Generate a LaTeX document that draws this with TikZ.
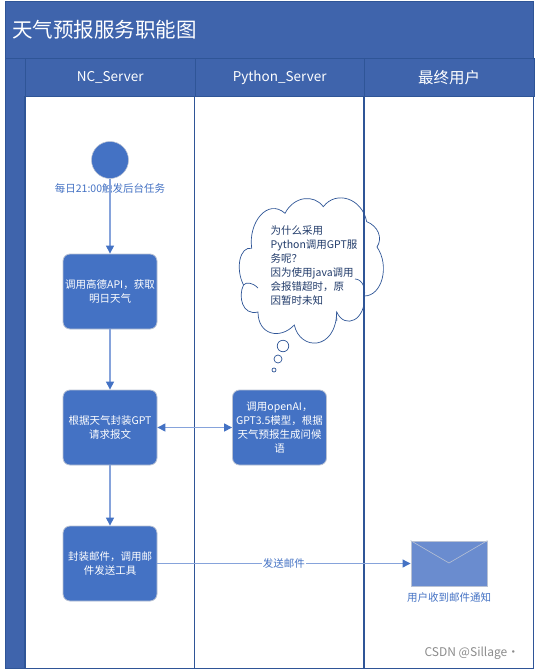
\documentclass[tikz,border=0pt]{standalone}
\usepackage{fontspec}
\usepackage{tikz}
\usetikzlibrary{arrows.meta}
\usetikzlibrary{positioning}
\usetikzlibrary{calc}
\setmainfont{Noto Sans CJK SC}

\definecolor{bandblue}{HTML}{3F64AC}
\definecolor{edgeblue}{HTML}{2F5597}
\definecolor{stepblue}{HTML}{4472C4}
\definecolor{linkblue}{HTML}{86A3DB}
\definecolor{mailblue}{HTML}{6A8CCF}
\definecolor{softgrey}{HTML}{B9C2D4}

\tikzset{
  band/.style={draw=edgeblue, fill=bandblue, line width=0.8pt, text=white, inner sep=0pt},
  lanehead/.style={band, minimum height=38pt, font=\fontsize{13.5}{16}\selectfont},
  stepbox/.style={draw=softgrey, fill=stepblue, line width=0.8pt, rounded corners=7pt, minimum width=94pt,
    minimum height=75pt, inner sep=0pt, text=white, align=center, font=\fontsize{10.5}{14}\selectfont},
  caption/.style={text=stepblue, inner sep=0pt, font=\fontsize{10.5}{14}\selectfont},
  link/.style={draw=linkblue, line width=1.1pt},
  tip/.style={-{Triangle[length=8pt, width=8pt, color=stepblue]}},
  twotip/.style={{Triangle[length=8pt, width=8pt, color=stepblue]}-{Triangle[length=8pt, width=8pt, color=stepblue]}},
  cloudline/.style={draw=edgeblue, line width=0.7pt}
}

\begin{document}
\begin{tikzpicture}[x=1pt, y=-1pt]

      % Page size of the reference
      \useasboundingbox (0, 0) rectangle (535, 670);

      % Outer frame and left strip
      \draw[edgeblue, line width=0.8pt, fill=white] (5, 1) rectangle (533.5, 668);
      \draw[band] (5, 58) rectangle (25, 668);

      % Title band
      \node[band, minimum width=528.5pt, minimum height=57pt] (title) at (269.25, 29.5) {};
      \node[text=white, inner sep=0pt, anchor=west, font=\fontsize{20.5}{24}\selectfont] (titletext) at (12, 30) {天气预报服务职能图};

      % Lanes
      \foreach \name/\x/\w/\txt in {nc/25/169.5/NC\_Server, py/194.5/169.5/Python\_Server, user/364/169.5/{\fontsize{15.5}{16}\selectfont 最终用户}} {
        \draw[edgeblue, line width=1.2pt] (\x, 96) -- (\x, 668);
        \node[lanehead, minimum width=\w pt, anchor=north west] (\name) at (\x, 58) {\txt};
      }

      % Start event
      \node[circle, draw=softgrey, fill=stepblue, line width=0.5pt, minimum size=37pt, inner sep=0pt] (start) at (110, 160) {};
      \node[caption] (startlabel) at (110, 188) {每日21:00触发后台任务};

      % Process steps
      \node[stepbox] (weather) at (110, 291.5) {调用高德API，获取\\明日天气};
      \node[stepbox] (request) at (110, 427.5) {根据天气封装GPT\\请求报文};
      \node[stepbox] (mail) at (110, 563.5) {封装邮件，调用邮\\件发送工具};
      \node[stepbox] (openai) at (279.5, 427.5) {调用openAI，\\GPT3.5模型，根据\\天气预报生成问候\\语};

      % End event: envelope
      \node[draw=softgrey, fill=mailblue, line width=0.9pt, minimum width=76pt, minimum height=45pt, inner sep=0pt] (envelope) at (449, 563.5) {};
      \coordinate (fold) at (449, 563);
      \draw[softgrey, line width=0.6pt] (envelope.north west) -- (fold) -- (envelope.north east);
      \node[caption] (envelopelabel) at (449, 598) {用户收到邮件通知};

      % Connectors
      \draw[link, tip] (start) -- (weather);
      \draw[link, tip] (weather) -- (request);
      \draw[link, tip] (request) -- (mail);
      \draw[link, twotip] (request) -- (openai);
      \draw[link, tip] (mail) -- node[fill=white, text=stepblue, inner sep=1pt, font=\fontsize{10.5}{14}\selectfont] (sendlabel) {发送邮件} (envelope);

      % Thought cloud
      \draw[cloudline] (251.7, 248.3) .. controls (248, 222) and (268, 198) .. (285, 213.3)
        .. controls (294, 196) and (314, 194) .. (323.3, 206.7)
        .. controls (336, 190) and (362, 198) .. (366.7, 221.7)
        .. controls (378, 226) and (383, 238) .. (377, 247)
        .. controls (390, 266) and (382, 296) .. (364.3, 296)
        .. controls (366, 320) and (345, 330) .. (336.7, 312)
        .. controls (336, 351) and (300, 351) .. (294.3, 325)
        .. controls (280, 340) and (258, 335) .. (258, 312)
        .. controls (242, 316) and (238, 296) .. (243.5, 285)
        .. controls (235, 268) and (240, 246) .. (251.7, 248.3);
      % Inner curls of the cloud
      \draw[cloudline] (243.5, 285) .. controls (246, 282) and (252, 282) .. (258, 288);
      \draw[cloudline] (364.3, 296) .. controls (366, 288) and (362, 279) .. (355, 279);
      \draw[cloudline] (336.7, 312) .. controls (336.5, 315) and (336.5, 318) .. (336.8, 321);
      \node[circle, cloudline, draw, minimum size=11.5pt, inner sep=0pt] (bubblea) at (283, 346) {};
      \node[circle, cloudline, draw, minimum size=8pt, inner sep=0pt] (bubbleb) at (278, 359) {};
      \node[circle, cloudline, draw, minimum size=4pt, inner sep=0pt] (bubblec) at (274, 370) {};
      \node[anchor=west, align=left, text=edgeblue!70!black, inner sep=0pt, font=\fontsize{10.5}{13.9}\selectfont] (cloudtext) at (270.5, 265.5)
        {为什么采用\\Python调用GPT服\\务呢？\\因为使用java调用\\会报错超时，原\\因暂时未知};

      % Watermark
      \node[text=black!45, inner sep=0pt, font=\fontsize{12}{14}\selectfont] (mark) at (472, 653) {CSDN @Sillage·};

\end{tikzpicture}
\end{document}
